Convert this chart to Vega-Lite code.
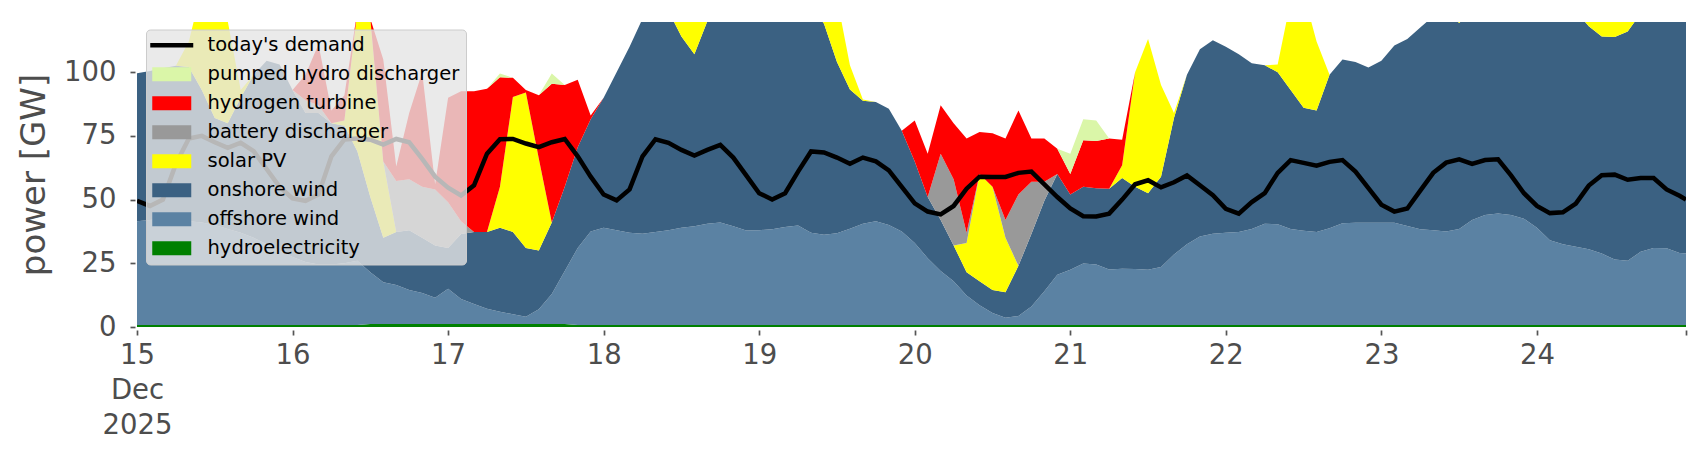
{
"$schema": "https://vega.github.io/schema/vega-lite/v6.json",
"width": 1549, "height": 305,
"autosize": {"type": "none"},
"padding": {"left": 137, "top": 22, "right": 20, "bottom": 133},
"background": "white",
"config": {"view": {"stroke": null}, "font": "DejaVu Sans", "axis": {"grid": false, "domain": false}},
"datasets": {
"series": [{"k":"hy","name":"hydroelectricity","rank":1},{"k":"of","name":"offshore wind","rank":2},{"k":"on","name":"onshore wind","rank":3},{"k":"so","name":"solar PV","rank":4},{"k":"ba","name":"battery discharger","rank":5},{"k":"h2","name":"hydrogen turbine","rank":6},{"k":"ph","name":"pumped hydro discharger","rank":7}],
"gen": [
{"t":"2025-12-15T00:00","hy":0.8,"of":40.7,"on":58.1,"so":0,"ba":0,"h2":0,"ph":0,"d":49.5},
{"t":"2025-12-15T02:00","hy":0.8,"of":41.2,"on":58.5,"so":0,"ba":0,"h2":0,"ph":0,"d":47.5},
{"t":"2025-12-15T04:00","hy":0.8,"of":41.7,"on":59,"so":0,"ba":0,"h2":0,"ph":0,"d":50},
{"t":"2025-12-15T06:00","hy":0.8,"of":41.2,"on":60.5,"so":0,"ba":0,"h2":0,"ph":0,"d":64},
{"t":"2025-12-15T08:00","hy":0.8,"of":40.7,"on":60.5,"so":10,"ba":0,"h2":0,"ph":0,"d":74},
{"t":"2025-12-15T10:00","hy":0.8,"of":40.2,"on":52,"so":40,"ba":0,"h2":0,"ph":0,"d":75},
{"t":"2025-12-15T12:00","hy":0.8,"of":39.2,"on":42,"so":45,"ba":0,"h2":0,"ph":0,"d":72.5},
{"t":"2025-12-15T14:00","hy":0.8,"of":37.7,"on":41.5,"so":40,"ba":0,"h2":0,"ph":0,"d":70.3},
{"t":"2025-12-15T16:00","hy":0.8,"of":36.2,"on":53,"so":3,"ba":0,"h2":0,"ph":0,"d":72.3},
{"t":"2025-12-15T18:00","hy":0.8,"of":34.2,"on":64,"so":0,"ba":0,"h2":0,"ph":0,"d":69},
{"t":"2025-12-15T20:00","hy":0.8,"of":31.7,"on":72,"so":0,"ba":0,"h2":0,"ph":0,"d":62},
{"t":"2025-12-15T22:00","hy":0.8,"of":29.2,"on":73,"so":0,"ba":0,"h2":0,"ph":0,"d":55},
{"t":"2025-12-16T00:00","hy":0.8,"of":26.7,"on":65.5,"so":0,"ba":0,"h2":0,"ph":0,"d":50.5},
{"t":"2025-12-16T02:00","hy":0.8,"of":24.7,"on":58.5,"so":0,"ba":5,"h2":10,"ph":0,"d":49.5},
{"t":"2025-12-16T04:00","hy":0.8,"of":23.7,"on":59.5,"so":0,"ba":3,"h2":24,"ph":0,"d":52},
{"t":"2025-12-16T06:00","hy":0.8,"of":23.7,"on":55.5,"so":0,"ba":0,"h2":5,"ph":0,"d":67},
{"t":"2025-12-16T08:00","hy":0.8,"of":24.2,"on":54,"so":2,"ba":0,"h2":10,"ph":0,"d":73.6},
{"t":"2025-12-16T10:00","hy":0.8,"of":25.2,"on":43,"so":55,"ba":0,"h2":0,"ph":0,"d":74},
{"t":"2025-12-16T12:00","hy":1.2,"of":20.3,"on":29.5,"so":70,"ba":0,"h2":0,"ph":0,"d":73.5},
{"t":"2025-12-16T14:00","hy":1.2,"of":16.4,"on":17.4,"so":30,"ba":0,"h2":40,"ph":0,"d":71.6},
{"t":"2025-12-16T16:00","hy":1.2,"of":15.3,"on":20.8,"so":0,"ba":20,"h2":5.7,"ph":0,"d":73.8},
{"t":"2025-12-16T18:00","hy":1.2,"of":13.3,"on":23.5,"so":0,"ba":20,"h2":26,"ph":0,"d":72.5},
{"t":"2025-12-16T20:00","hy":1.2,"of":12.1,"on":21.7,"so":0,"ba":20,"h2":45,"ph":0,"d":66},
{"t":"2025-12-16T22:00","hy":1.2,"of":10.3,"on":20.5,"so":0,"ba":22,"h2":2,"ph":0,"d":59},
{"t":"2025-12-17T00:00","hy":1.2,"of":13.8,"on":16,"so":0,"ba":18,"h2":41,"ph":0,"d":54.7},
{"t":"2025-12-17T02:00","hy":1.2,"of":9.8,"on":25.5,"so":0,"ba":5,"h2":51,"ph":0,"d":51.6},
{"t":"2025-12-17T04:00","hy":1.2,"of":7.8,"on":28.3,"so":0,"ba":0,"h2":55.2,"ph":0,"d":55.6},
{"t":"2025-12-17T06:00","hy":1.2,"of":6,"on":30.1,"so":0,"ba":0,"h2":56.2,"ph":0,"d":68},
{"t":"2025-12-17T08:00","hy":1.2,"of":4.8,"on":33,"so":16,"ba":0,"h2":43,"ph":1.5,"d":73.7},
{"t":"2025-12-17T10:00","hy":1.2,"of":3.8,"on":32.3,"so":53,"ba":0,"h2":7.5,"ph":0,"d":73.8},
{"t":"2025-12-17T12:00","hy":1.2,"of":2.8,"on":27,"so":61,"ba":0,"h2":1,"ph":0,"d":72},
{"t":"2025-12-17T14:00","hy":1.2,"of":5.8,"on":23,"so":36,"ba":0,"h2":25,"ph":0,"d":70.6},
{"t":"2025-12-17T16:00","hy":1.2,"of":11.8,"on":28,"so":0,"ba":0,"h2":54.5,"ph":4,"d":72.5},
{"t":"2025-12-17T18:00","hy":1.2,"of":20.8,"on":33,"so":0,"ba":0,"h2":40,"ph":0,"d":73.8},
{"t":"2025-12-17T20:00","hy":0.8,"of":30.2,"on":39.5,"so":0,"ba":0,"h2":26.5,"ph":0,"d":67},
{"t":"2025-12-17T22:00","hy":0.8,"of":36.7,"on":44,"so":0,"ba":0,"h2":1.5,"ph":0,"d":59},
{"t":"2025-12-18T00:00","hy":0.8,"of":38.2,"on":51,"so":0,"ba":0,"h2":0,"ph":0,"d":52},
{"t":"2025-12-18T02:00","hy":0.8,"of":37.2,"on":62,"so":0,"ba":0,"h2":0,"ph":0,"d":49.7},
{"t":"2025-12-18T04:00","hy":0.8,"of":36.2,"on":73,"so":0,"ba":0,"h2":0,"ph":0,"d":54},
{"t":"2025-12-18T06:00","hy":0.8,"of":35.8,"on":84.4,"so":0,"ba":0,"h2":0,"ph":0,"d":67},
{"t":"2025-12-18T08:00","hy":0.8,"of":36.5,"on":89.7,"so":0,"ba":0,"h2":0,"ph":0,"d":73.7},
{"t":"2025-12-18T10:00","hy":0.8,"of":37.2,"on":86,"so":20,"ba":0,"h2":0,"ph":0,"d":72.3},
{"t":"2025-12-18T12:00","hy":0.8,"of":38.2,"on":75,"so":40,"ba":0,"h2":0,"ph":0,"d":69.5},
{"t":"2025-12-18T14:00","hy":0.8,"of":38.7,"on":67.5,"so":30,"ba":0,"h2":0,"ph":0,"d":67.3},
{"t":"2025-12-18T16:00","hy":0.8,"of":39.7,"on":79.5,"so":5,"ba":0,"h2":0,"ph":0,"d":69.5},
{"t":"2025-12-18T18:00","hy":0.8,"of":40.2,"on":87,"so":0,"ba":0,"h2":0,"ph":0,"d":71.5},
{"t":"2025-12-18T20:00","hy":0.8,"of":38.7,"on":90.5,"so":0,"ba":0,"h2":0,"ph":0,"d":66.5},
{"t":"2025-12-18T22:00","hy":0.8,"of":37.1,"on":94.1,"so":0,"ba":0,"h2":0,"ph":0,"d":59.5},
{"t":"2025-12-19T00:00","hy":0.8,"of":37.2,"on":95,"so":0,"ba":0,"h2":0,"ph":0,"d":52.5},
{"t":"2025-12-19T02:00","hy":0.8,"of":37.6,"on":93.6,"so":0,"ba":0,"h2":0,"ph":0,"d":50},
{"t":"2025-12-19T04:00","hy":0.8,"of":38.4,"on":90.8,"so":0,"ba":0,"h2":0,"ph":0,"d":52.5},
{"t":"2025-12-19T06:00","hy":0.8,"of":39,"on":88.2,"so":0,"ba":0,"h2":0,"ph":0,"d":61},
{"t":"2025-12-19T08:00","hy":0.8,"of":36.2,"on":89,"so":2,"ba":0,"h2":0,"ph":0,"d":68.9},
{"t":"2025-12-19T10:00","hy":0.8,"of":35.4,"on":82.8,"so":20,"ba":0,"h2":0,"ph":0,"d":68.5},
{"t":"2025-12-19T12:00","hy":0.8,"of":36,"on":67.2,"so":25,"ba":0,"h2":0,"ph":0,"d":66.5},
{"t":"2025-12-19T14:00","hy":0.8,"of":37.8,"on":54.6,"so":9.5,"ba":0,"h2":0,"ph":0,"d":64.1},
{"t":"2025-12-19T16:00","hy":0.8,"of":39.7,"on":48.3,"so":0.5,"ba":0,"h2":0,"ph":0,"d":66.5},
{"t":"2025-12-19T18:00","hy":0.8,"of":40.7,"on":46.8,"so":0,"ba":0,"h2":0,"ph":0,"d":65},
{"t":"2025-12-19T20:00","hy":0.8,"of":39.2,"on":45.7,"so":0,"ba":0,"h2":0,"ph":0,"d":61.5},
{"t":"2025-12-19T22:00","hy":0.8,"of":36.7,"on":39.5,"so":0,"ba":0,"h2":0,"ph":0,"d":55},
{"t":"2025-12-20T00:00","hy":0.8,"of":32.2,"on":32,"so":0,"ba":0,"h2":16,"ph":0,"d":48.5},
{"t":"2025-12-20T02:00","hy":0.8,"of":26.2,"on":24,"so":0,"ba":0,"h2":17,"ph":0,"d":45.3},
{"t":"2025-12-20T04:00","hy":0.8,"of":21.2,"on":20,"so":0,"ba":26,"h2":19,"ph":0,"d":44.2},
{"t":"2025-12-20T06:00","hy":0.8,"of":17.2,"on":14,"so":0,"ba":26,"h2":22,"ph":0,"d":47.5},
{"t":"2025-12-20T08:00","hy":0.8,"of":11.6,"on":9.1,"so":11.5,"ba":4,"h2":37,"ph":0,"d":54.3},
{"t":"2025-12-20T10:00","hy":0.8,"of":7.7,"on":9.5,"so":42,"ba":0,"h2":16.5,"ph":0,"d":59},
{"t":"2025-12-20T12:00","hy":0.8,"of":4.7,"on":9,"so":40.5,"ba":0,"h2":21,"ph":0,"d":58.9},
{"t":"2025-12-20T14:00","hy":0.8,"of":2.8,"on":10,"so":21.4,"ba":7,"h2":32,"ph":0,"d":58.9},
{"t":"2025-12-20T16:00","hy":0.8,"of":3.5,"on":19.7,"so":0,"ba":28,"h2":33,"ph":0,"d":60.5},
{"t":"2025-12-20T18:00","hy":0.8,"of":7.2,"on":28.5,"so":0,"ba":20.5,"h2":17,"ph":0,"d":61},
{"t":"2025-12-20T20:00","hy":0.8,"of":13.2,"on":35.5,"so":0,"ba":7.5,"h2":17,"ph":0,"d":56},
{"t":"2025-12-20T22:00","hy":0.8,"of":19.7,"on":39.5,"so":0,"ba":0,"h2":10,"ph":0,"d":51},
{"t":"2025-12-21T00:00","hy":0.8,"of":21.7,"on":29.5,"so":0,"ba":0,"h2":8,"ph":8,"d":46.5},
{"t":"2025-12-21T02:00","hy":0.8,"of":24.1,"on":30.1,"so":0,"ba":0,"h2":18.3,"ph":8.2,"d":43.5},
{"t":"2025-12-21T04:00","hy":0.8,"of":23.7,"on":30,"so":0,"ba":0,"h2":18.5,"ph":8,"d":43.4},
{"t":"2025-12-21T06:00","hy":0.8,"of":21.8,"on":31.7,"so":0,"ba":0,"h2":19.7,"ph":0,"d":44.5},
{"t":"2025-12-21T08:00","hy":0.8,"of":22.1,"on":35.6,"so":5,"ba":0,"h2":10,"ph":0,"d":50},
{"t":"2025-12-21T10:00","hy":0.8,"of":22,"on":32.2,"so":45,"ba":0,"h2":0,"ph":0,"d":56},
{"t":"2025-12-21T12:00","hy":0.8,"of":21.7,"on":30,"so":60.5,"ba":0,"h2":0,"ph":0,"d":57.6},
{"t":"2025-12-21T14:00","hy":0.8,"of":22.7,"on":35.5,"so":36,"ba":0,"h2":0,"ph":0,"d":54.8},
{"t":"2025-12-21T16:00","hy":0.8,"of":27.7,"on":53.5,"so":2,"ba":0,"h2":0,"ph":0,"d":56.8},
{"t":"2025-12-21T18:00","hy":0.8,"of":31.7,"on":66.5,"so":0,"ba":0,"h2":0,"ph":0,"d":59.5},
{"t":"2025-12-21T20:00","hy":0.8,"of":34.7,"on":73.5,"so":0,"ba":0,"h2":0,"ph":0,"d":55.6},
{"t":"2025-12-21T22:00","hy":0.8,"of":35.8,"on":75.9,"so":0,"ba":0,"h2":0,"ph":0,"d":51.7},
{"t":"2025-12-22T00:00","hy":0.8,"of":36.2,"on":73,"so":0,"ba":0,"h2":0,"ph":0,"d":46.4},
{"t":"2025-12-22T02:00","hy":0.8,"of":36.5,"on":69.7,"so":0,"ba":0,"h2":0,"ph":0,"d":44.5},
{"t":"2025-12-22T04:00","hy":0.8,"of":37.7,"on":65,"so":0,"ba":0,"h2":0,"ph":0,"d":49},
{"t":"2025-12-22T06:00","hy":0.8,"of":39.7,"on":62.2,"so":0,"ba":0,"h2":0,"ph":0,"d":52.5},
{"t":"2025-12-22T08:00","hy":0.8,"of":39.5,"on":59.7,"so":3,"ba":0,"h2":0,"ph":0,"d":60.5},
{"t":"2025-12-22T10:00","hy":0.8,"of":37.7,"on":54.5,"so":35,"ba":0,"h2":0,"ph":0,"d":65.5},
{"t":"2025-12-22T12:00","hy":0.8,"of":37,"on":48.2,"so":45,"ba":0,"h2":0,"ph":0,"d":64.4},
{"t":"2025-12-22T14:00","hy":0.8,"of":36.5,"on":47.7,"so":27,"ba":0,"h2":0,"ph":0,"d":63.3},
{"t":"2025-12-22T16:00","hy":0.8,"of":38,"on":60.2,"so":0,"ba":0,"h2":0,"ph":0,"d":64.8},
{"t":"2025-12-22T18:00","hy":0.8,"of":39.9,"on":64.3,"so":0,"ba":0,"h2":0,"ph":0,"d":65.5},
{"t":"2025-12-22T20:00","hy":0.8,"of":40.1,"on":63.1,"so":0,"ba":0,"h2":0,"ph":0,"d":61},
{"t":"2025-12-22T22:00","hy":0.8,"of":40.1,"on":60.9,"so":0,"ba":0,"h2":0,"ph":0,"d":54.5},
{"t":"2025-12-23T00:00","hy":0.8,"of":40.1,"on":63.6,"so":0,"ba":0,"h2":0,"ph":0,"d":48},
{"t":"2025-12-23T02:00","hy":0.8,"of":40.1,"on":69.6,"so":0,"ba":0,"h2":0,"ph":0,"d":45.3},
{"t":"2025-12-23T04:00","hy":0.8,"of":38.8,"on":73.4,"so":0,"ba":0,"h2":0,"ph":0,"d":46.5},
{"t":"2025-12-23T06:00","hy":0.8,"of":37.6,"on":79.1,"so":0,"ba":0,"h2":0,"ph":0,"d":53.5},
{"t":"2025-12-23T08:00","hy":0.8,"of":37.2,"on":84,"so":0,"ba":0,"h2":0,"ph":0,"d":60.5},
{"t":"2025-12-23T10:00","hy":0.8,"of":36.7,"on":86.5,"so":10,"ba":0,"h2":0,"ph":0,"d":64.5},
{"t":"2025-12-23T12:00","hy":0.8,"of":37.7,"on":80.8,"so":5,"ba":0,"h2":0,"ph":0,"d":65.8},
{"t":"2025-12-23T14:00","hy":0.8,"of":41.2,"on":82,"so":5,"ba":0,"h2":0,"ph":0,"d":64},
{"t":"2025-12-23T16:00","hy":0.8,"of":43.2,"on":82,"so":0,"ba":0,"h2":0,"ph":0,"d":65.5},
{"t":"2025-12-23T18:00","hy":0.8,"of":43.7,"on":82.5,"so":0,"ba":0,"h2":0,"ph":0,"d":65.8},
{"t":"2025-12-23T20:00","hy":0.8,"of":43.2,"on":82,"so":0,"ba":0,"h2":0,"ph":0,"d":59.5},
{"t":"2025-12-23T22:00","hy":0.8,"of":41.7,"on":84.5,"so":0,"ba":0,"h2":0,"ph":0,"d":52.5},
{"t":"2025-12-24T00:00","hy":0.8,"of":38.2,"on":88,"so":0,"ba":0,"h2":0,"ph":0,"d":47.5},
{"t":"2025-12-24T02:00","hy":0.8,"of":33.2,"on":92,"so":0,"ba":0,"h2":0,"ph":0,"d":44.7},
{"t":"2025-12-24T04:00","hy":0.8,"of":31.7,"on":92.5,"so":0,"ba":0,"h2":0,"ph":0,"d":45},
{"t":"2025-12-24T06:00","hy":0.8,"of":30.7,"on":92.5,"so":0,"ba":0,"h2":0,"ph":0,"d":48.4},
{"t":"2025-12-24T08:00","hy":0.8,"of":29.7,"on":87.5,"so":10,"ba":0,"h2":0,"ph":0,"d":55.5},
{"t":"2025-12-24T10:00","hy":0.8,"of":28,"on":85.2,"so":25,"ba":0,"h2":0,"ph":0,"d":59.6},
{"t":"2025-12-24T12:00","hy":0.8,"of":25.7,"on":87.3,"so":30,"ba":0,"h2":0,"ph":0,"d":59.8},
{"t":"2025-12-24T14:00","hy":0.8,"of":25.2,"on":90,"so":20,"ba":0,"h2":0,"ph":0,"d":57.8},
{"t":"2025-12-24T16:00","hy":0.8,"of":28.7,"on":93.5,"so":5,"ba":0,"h2":0,"ph":0,"d":58.5},
{"t":"2025-12-24T18:00","hy":0.8,"of":30.2,"on":94,"so":0,"ba":0,"h2":0,"ph":0,"d":58.5},
{"t":"2025-12-24T20:00","hy":0.8,"of":30.1,"on":94.1,"so":0,"ba":0,"h2":0,"ph":0,"d":54},
{"t":"2025-12-24T22:00","hy":0.8,"of":28.2,"on":96,"so":0,"ba":0,"h2":0,"ph":0,"d":51.5},
{"t":"2025-12-24T23:00","hy":0.8,"of":28,"on":96.2,"so":0,"ba":0,"h2":0,"ph":0,"d":50}
]},
"data": {"name": "gen"},
"encoding": {
  "x": {"field": "t", "type": "temporal", "title": null,
    "scale": {"domain": [{"year":2025,"month":12,"date":15}, {"year":2025,"month":12,"date":24,"hours":23}]},
    "axis": {"values": [{"year":2025,"month":12,"date":15},{"year":2025,"month":12,"date":16},{"year":2025,"month":12,"date":17},{"year":2025,"month":12,"date":18},{"year":2025,"month":12,"date":19},{"year":2025,"month":12,"date":20},{"year":2025,"month":12,"date":21},{"year":2025,"month":12,"date":22},{"year":2025,"month":12,"date":23},{"year":2025,"month":12,"date":24},{"year":2025,"month":12,"date":24,"hours":23}],
      "labelExpr": "hours(datum.value) == 23 ? '' : (date(datum.value) == 15 ? ['15','Dec','2025'] : timeFormat(datum.value, '%d'))",
      "labelFontSize": 27.5, "labelColor": "#4d4d4d", "labelLineHeight": 35, "labelAngle": 0,
      "tickSize": 5, "tickColor": "#555555", "tickWidth": 1.7, "offset": 3, "labelPadding": 6,
      "labelOverlap": false, "labelFlush": false, "labelBound": false, "grid": false, "domain": false}}
},
"layer": [
  {"transform": [{"fold": ["hy","of","on","so","ba","h2","ph"], "as": ["k","v"]},
                 {"lookup": "k", "from": {"data": {"name": "series"}, "key": "k", "fields": ["name","rank"]}}],
   "mark": {"type": "area", "clip": true, "interpolate": "linear", "opacity": 1},
   "encoding": {
     "y": {"field": "v", "type": "quantitative", "stack": "zero", "title": "power [GW]",
       "scale": {"domain": [0, 119.7], "nice": false, "zero": true},
       "axis": {"values": [0,25,50,75,100], "labelFontSize": 27.5, "labelColor": "#4d4d4d", "tickSize": 5, "tickColor": "#555555", "tickWidth": 1.7, "offset": 2, "labelPadding": 14,
                "titleFontSize": 34, "titleFontWeight": "normal", "titleColor": "#4d4d4d", "titlePadding": 12, "grid": false, "domain": false}},
     "color": {"field": "name", "type": "nominal",
       "scale": {"domain": ["today's demand","pumped hydro discharger","hydrogen turbine","battery discharger","solar PV","onshore wind","offshore wind","hydroelectricity"],
                 "range": ["#000000","#daf6a8","#ff0000","#999999","#ffff00","#3b6182","#5b82a3","#008000"]},
       "legend": {"title": null, "orient": "none", "legendX": 9, "legendY": 7.5,
         "labelFontSize": 19.5, "labelColor": "#000000", "labelFont": "DejaVu Sans", "labelLimit": 0,
         "symbolSize": 400, "labelOffset": 26, "rowPadding": 8, "padding": 6, "symbolOffset": 10,
         "fillColor": "rgba(229,229,229,0.8)", "strokeColor": "#cccccc", "cornerRadius": 4,
         "symbolOpacity": 1, "symbolStrokeColor": "#000000",
         "symbolType": {"expr": "datum.value === \"today's demand\" ? 'M-2.15,0H2.15' : 'M-1.95,-0.7H1.95V0.7H-1.95Z'"},
         "symbolStrokeWidth": {"expr": "datum.value === \"today's demand\" ? 4.5 : 0"}}},
     "order": {"field": "rank", "type": "quantitative"}
   }},
  {"mark": {"type": "line", "strokeWidth": 4.5, "clip": true, "interpolate": "linear", "color": "#000000"},
   "encoding": {"y": {"field": "d", "type": "quantitative", "title": "power [GW]"}}}
]
}
